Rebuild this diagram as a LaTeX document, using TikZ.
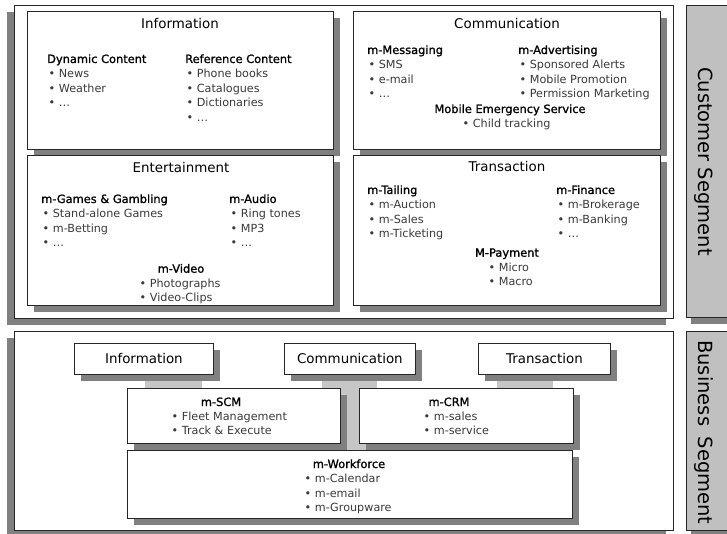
\documentclass[tikz,border=0pt]{standalone}
\usepackage{fontspec}
\setmainfont{DejaVu Sans}
\newfontfamily\headfamily[FakeBold=1.2]{DejaVu Sans}
\usetikzlibrary{shadows, calc}

\definecolor{shadowgray}{HTML}{808080}
\definecolor{segmentgray}{HTML}{C0C0C0}
\definecolor{linkgray}{HTML}{C6C6C6}
\definecolor{itemgray}{HTML}{3A3A3A}

\newcommand{\itemfont}{\fontsize{11.2}{14.6}\selectfont}
\newcommand{\hdfont}{\headfamily\fontsize{11.4}{14.6}\selectfont}
\newcommand{\itm}[1]{\hspace{1.5pt}{\color{itemgray}\textbullet\ #1}}
\newcommand{\svc}[2]{\begin{tabular}[t]{@{}l@{}}{\hdfont #1}\\ #2\end{tabular}}
\newcommand{\lst}[1]{\begin{tabular}[t]{@{}l@{}}#1\end{tabular}}

\begin{document}
\begin{tikzpicture}[x=1pt, y=-1pt,
  frame/.style={draw=black!85, fill=white, line width=0.8pt, inner sep=0pt, anchor=north west,
    drop shadow={shadow xshift=-7pt, shadow yshift=-7pt, fill=shadowgray, opacity=1}},
  panel/.style={draw=black!85, fill=white, line width=0.8pt, inner sep=0pt, anchor=north west,
    drop shadow={shadow xshift=7pt, shadow yshift=-7pt, fill=shadowgray, opacity=1}},
  segment/.style={draw=black!85, fill=segmentgray, line width=0.8pt, inner sep=0pt, anchor=north west,
    drop shadow={shadow xshift=5pt, shadow yshift=-7pt, fill=shadowgray, opacity=1}},
  title/.style={font=\fontsize{13.4}{16}\selectfont, anchor=base, inner sep=0pt},
  seglabel/.style={font=\fontsize{19.5}{22}\selectfont, rotate=-90, inner sep=0pt},
  group/.style={font=\itemfont, anchor=base west, inner sep=0pt},
  head/.style={font=\hdfont, anchor=base, inner sep=0pt},
  link/.style={fill=linkgray}]

  \useasboundingbox (0,0) rectangle (727,534);

  % segments
  \node [frame, minimum width=659pt, minimum height=313pt] (custframe) at (14,5) {};
  \node [frame, minimum width=659pt, minimum height=199pt] (bizframe) at (14,331) {};
  \node [segment, minimum width=42pt, minimum height=312pt] (custseg) at (686,5) {};
  \node [segment, minimum width=42pt, minimum height=199pt] (bizseg) at (686,331) {};
  \node [seglabel] (custlabel) at ($(custseg.center)+(-4,0)$) {Customer Segment};
  \node [seglabel] (bizlabel) at ($(bizseg.center)+(-4,1.5)$) {Business\hspace{0.55em}Segment};

  % customer segment
  \node [panel, minimum width=306pt, minimum height=138pt] (info) at (27,11) {};
  \node [panel, minimum width=307pt, minimum height=138pt] (comm) at (353,11) {};
  \node [panel, minimum width=306pt, minimum height=150pt] (ent) at (27,155) {};
  \node [panel, minimum width=307pt, minimum height=150pt] (trans) at (353,155) {};

  \node [title] (infotitle) at (180,29) {Information};
  \node [group] (dyn) at (47,63) {\svc{Dynamic Content}{\itm{News}\\ \itm{Weather}\\ \itm{\dots}}};
  \node [group] (ref) at (185,63) {\svc{Reference Content}{\itm{Phone books}\\ \itm{Catalogues}\\ \itm{Dictionaries}\\ \itm{\dots}}};

  \node [title] (commtitle) at (507,29) {Communication};
  \node [group] (msg) at (367,54) {\svc{m-Messaging}{\itm{SMS}\\ \itm{e-mail}\\ \itm{\dots}}};
  \node [group] (adv) at (518,54) {\svc{m-Advertising}{\itm{Sponsored Alerts}\\ \itm{Mobile Promotion}\\ \itm{Permission Marketing}}};
  \node [head] (emerg) at (510,113) {Mobile Emergency Service};
  \node [group] (emerglist) at (461,128) {\lst{\itm{Child tracking}}};

  \node [title] (enttitle) at (181,173) {Entertainment};
  \node [group] (games) at (41,203) {\svc{m-Games \& Gambling}{\itm{Stand-alone Games}\\ \itm{m-Betting}\\ \itm{\dots}}};
  \node [group] (audio) at (229,203) {\svc{m-Audio}{\itm{Ring tones}\\ \itm{MP3}\\ \itm{\dots}}};
  \node [head] (video) at (181,272.7) {m-Video};
  \node [group] (videolist) at (138,287.3) {\lst{\itm{Photographs}\\ \itm{Video-Clips}}};

  \node [title] (transtitle) at (507,172) {Transaction};
  \node [group] (tail) at (367,194) {\svc{m-Tailing}{\itm{m-Auction}\\ \itm{m-Sales}\\ \itm{m-Ticketing}}};
  \node [group] (fin) at (556,194) {\svc{m-Finance}{\itm{m-Brokerage}\\ \itm{m-Banking}\\ \itm{\dots}}};
  \node [head] (pay) at (507,256.7) {M-Payment};
  \node [group] (paylist) at (487,271.3) {\lst{\itm{Micro}\\ \itm{Macro}}};

  % business segment
  \fill [link] ($(bizframe.north west)+(131,43)$) coordinate (infolink) rectangle ($(bizframe.north west)+(188,119)$);
  \fill [link] ($(bizframe.north west)+(308,43)$) coordinate (commlink) rectangle ($(bizframe.north west)+(363,119)$);
  \fill [link] ($(bizframe.north west)+(483,43)$) coordinate (translink) rectangle ($(bizframe.north west)+(539,119)$);

  \node [panel, title, anchor=north west, minimum width=139pt, minimum height=31pt] (infob) at (74,343) {Information};
  \node [panel, title, anchor=north west, minimum width=131pt, minimum height=31pt] (commb) at (284,343) {Communication};
  \node [panel, title, anchor=north west, minimum width=132pt, minimum height=31pt] (transb) at (478,343) {Transaction};
  \node [panel, minimum width=213pt, minimum height=55pt] (scm) at (127,388) {};
  \node [panel, minimum width=214pt, minimum height=55pt] (crm) at (359,388) {};
  \node [panel, minimum width=445pt, minimum height=68pt] (work) at (127,450) {};

  \node [head] (scmhead) at (221,406) {m-SCM};
  \node [group] (scmlist) at (170,420.3) {\lst{\itm{Fleet Management}\\ \itm{Track \& Execute}}};
  \node [head] (crmhead) at (449,406) {m-CRM};
  \node [group] (crmlist) at (422,420.3) {\lst{\itm{m-sales}\\ \itm{m-service}}};
  \node [head] (workhead) at (349,468) {m-Workforce};
  \node [group] (worklist) at (303,482.5) {\lst{\itm{m-Calendar}\\ \itm{m-email}\\ \itm{m-Groupware}}};
\end{tikzpicture}
\end{document}
